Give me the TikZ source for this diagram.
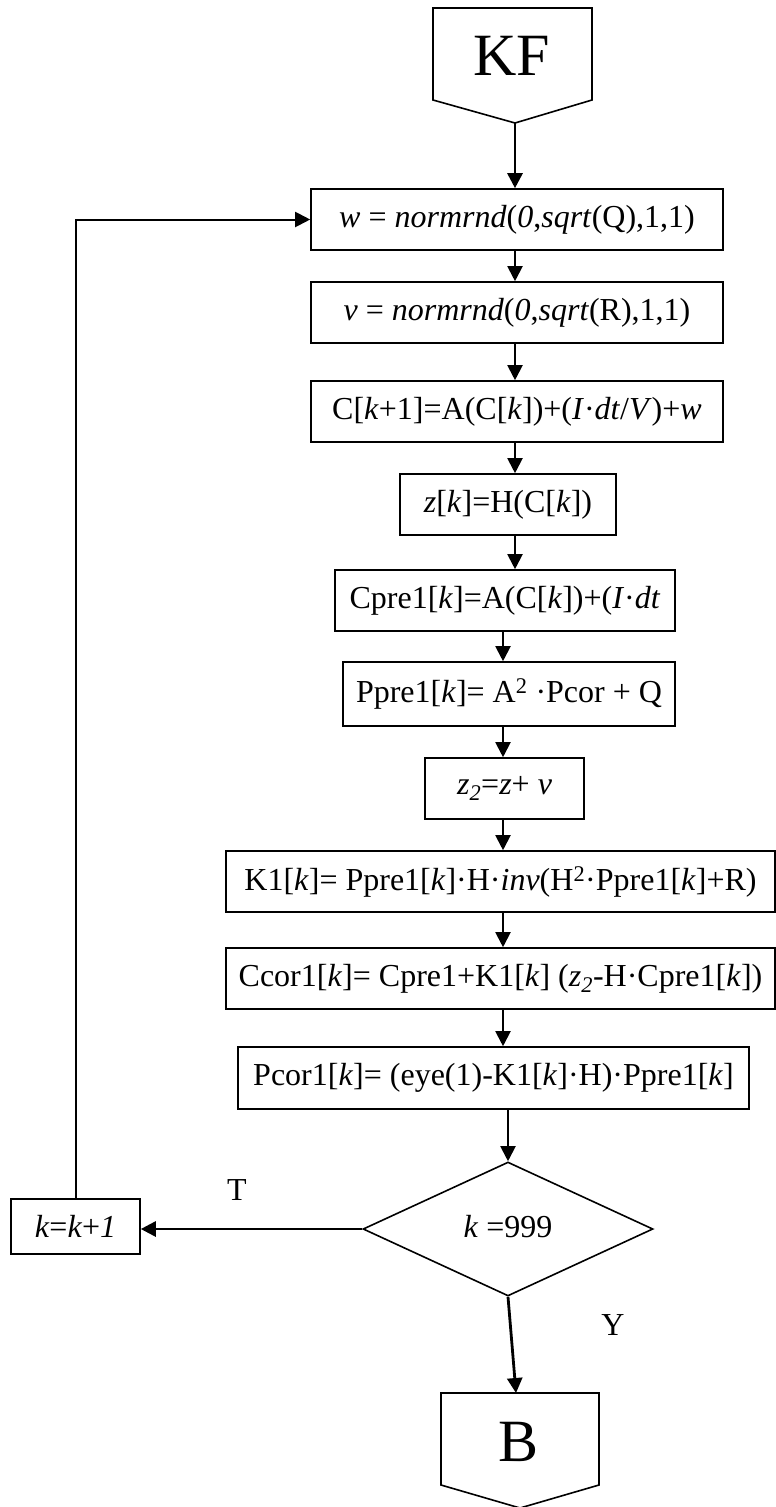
\documentclass[tikz,border=0pt]{standalone}
\usepackage{fontspec}
\setmainfont{Liberation Serif}
\usetikzlibrary{arrows.meta,shapes.geometric}
\begin{document}
\begin{tikzpicture}[x=1pt,y=-1pt,
  box/.style={draw,line width=1.6pt,inner sep=0pt,minimum height=61pt,font=\fontsize{32}{38}\selectfont},
  lbl/.style={inner sep=0pt,font=\fontsize{32}{38}\selectfont},
  big/.style={inner sep=0pt,font=\fontsize{60}{70}\selectfont},
  arr/.style={line width=2pt,-{Triangle[length=15pt,width=15pt]}},
  tarr/.style={line width=2.8pt,-{Triangle[length=15pt,width=15pt]}}]
\useasboundingbox (0,0) rectangle (776,1507);
\fill[white] (0,0) rectangle (776,1507);
% start terminal
\draw[line width=1.6pt] (433,8) -- (592,8) -- (592,100) -- (515,123) -- (433,100) -- cycle;
\node[big] (kf) at (512,56) {KF};
\coordinate (kfp) at (515,123);
% end terminal
\draw[line width=1.6pt] (441,1393) -- (599,1393) -- (599,1485) -- (520,1508) -- (441,1485) -- cycle;
\node[big] (bb) at (519,1442) {B};
\coordinate (btop) at (516,1393);
% process boxes
\node[box,minimum width=412pt] (b1) at (517,219.5) {\textit{w} = \textit{normrnd}(\textit{0},\textit{sqrt}(Q),1,1)};
\node[box,minimum width=412pt] (b2) at (517,312.5) {\textit{v} = \textit{normrnd}(\textit{0},\textit{sqrt}(R),1,1)};
\node[box,minimum width=412pt] (b3) at (517,411.5) {C[\textit{k}+1]=A(C[\textit{k}])+(\textit{I}·\textit{dt}/\textit{V})+\textit{w}};
\node[box,minimum width=216pt] (b4) at (508,504.5) {\textit{z}[\textit{k}]=H(C[\textit{k}])};
\node[box,minimum width=340pt] (b5) at (505,600.5) {Cpre1[\textit{k}]=A(C[\textit{k}])+(\textit{I}·\textit{dt}};
\node[box,minimum width=332pt,minimum height=64pt] (b6) at (509,694) {Ppre1[\textit{k}]= A\textsuperscript{2} ·Pcor + Q};
\node[box,minimum width=159pt] (b7) at (504.5,788.5) {\textit{z\textsubscript{2}}=\textit{z}+ \textit{v}};
\node[box,minimum width=549pt] (b8) at (500.5,881.5) {K1[\textit{k}]= Ppre1[\textit{k}]·H·\textit{inv}(H\textsuperscript{2}·Ppre1[\textit{k}]+R)};
\node[box,minimum width=549pt] (b9) at (500.5,978.5) {Ccor1[\textit{k}]= Cpre1+K1[\textit{k}] (\textit{z\textsubscript{2}}-H·Cpre1[\textit{k}])};
\node[box,minimum width=511pt,minimum height=62pt] (b10) at (493.5,1078) {Pcor1[\textit{k}]= (eye(1)-K1[\textit{k}]·H)·Ppre1[\textit{k}]};
% decision
\node[draw,line width=1.6pt,shape=diamond,inner sep=0pt,minimum width=290pt,minimum height=134pt,font=\fontsize{32}{38}\selectfont] (dia) at (508,1229) {\raisebox{6pt}{\textit{k} =999}};
% counter box
\node[box,minimum width=129pt,minimum height=55pt] (kb) at (75.5,1226.5) {\textit{k}=\textit{k}+\textit{1}};
% labels
\node[lbl] (tl) at (237,1190) {T};
\node[lbl] (yl) at (613,1325) {Y};
% helper x positions
\coordinate (ca) at (515,0);
\coordinate (cb) at (503,0);
% connectors
\draw[tarr] (kfp) -- (kfp |- b1.north);
\draw[arr] (b1.south -| ca) -- (b2.north -| ca);
\draw[arr] (b2.south -| ca) -- (b3.north -| ca);
\draw[arr] (b3.south -| ca) -- (b4.north -| ca);
\draw[arr] (b4.south -| ca) -- (b5.north -| ca);
\draw[arr] (b5.south -| cb) -- (b6.north -| cb);
\draw[arr] (b6.south -| cb) -- (b7.north -| cb);
\draw[arr] (b7.south -| cb) -- (b8.north -| cb);
\draw[arr] (b8.south -| cb) -- (b9.north -| cb);
\draw[arr] (b9.south -| cb) -- (b10.north -| cb);
\draw[arr] (b10.south -| dia.north) -- (dia.north);
\draw[tarr] (dia.west) -- (dia.west -| kb.east);
\draw[tarr] (dia.south) -- (btop);
\draw[arr] (kb.north) |- (b1.west);
\end{tikzpicture}
\end{document}
